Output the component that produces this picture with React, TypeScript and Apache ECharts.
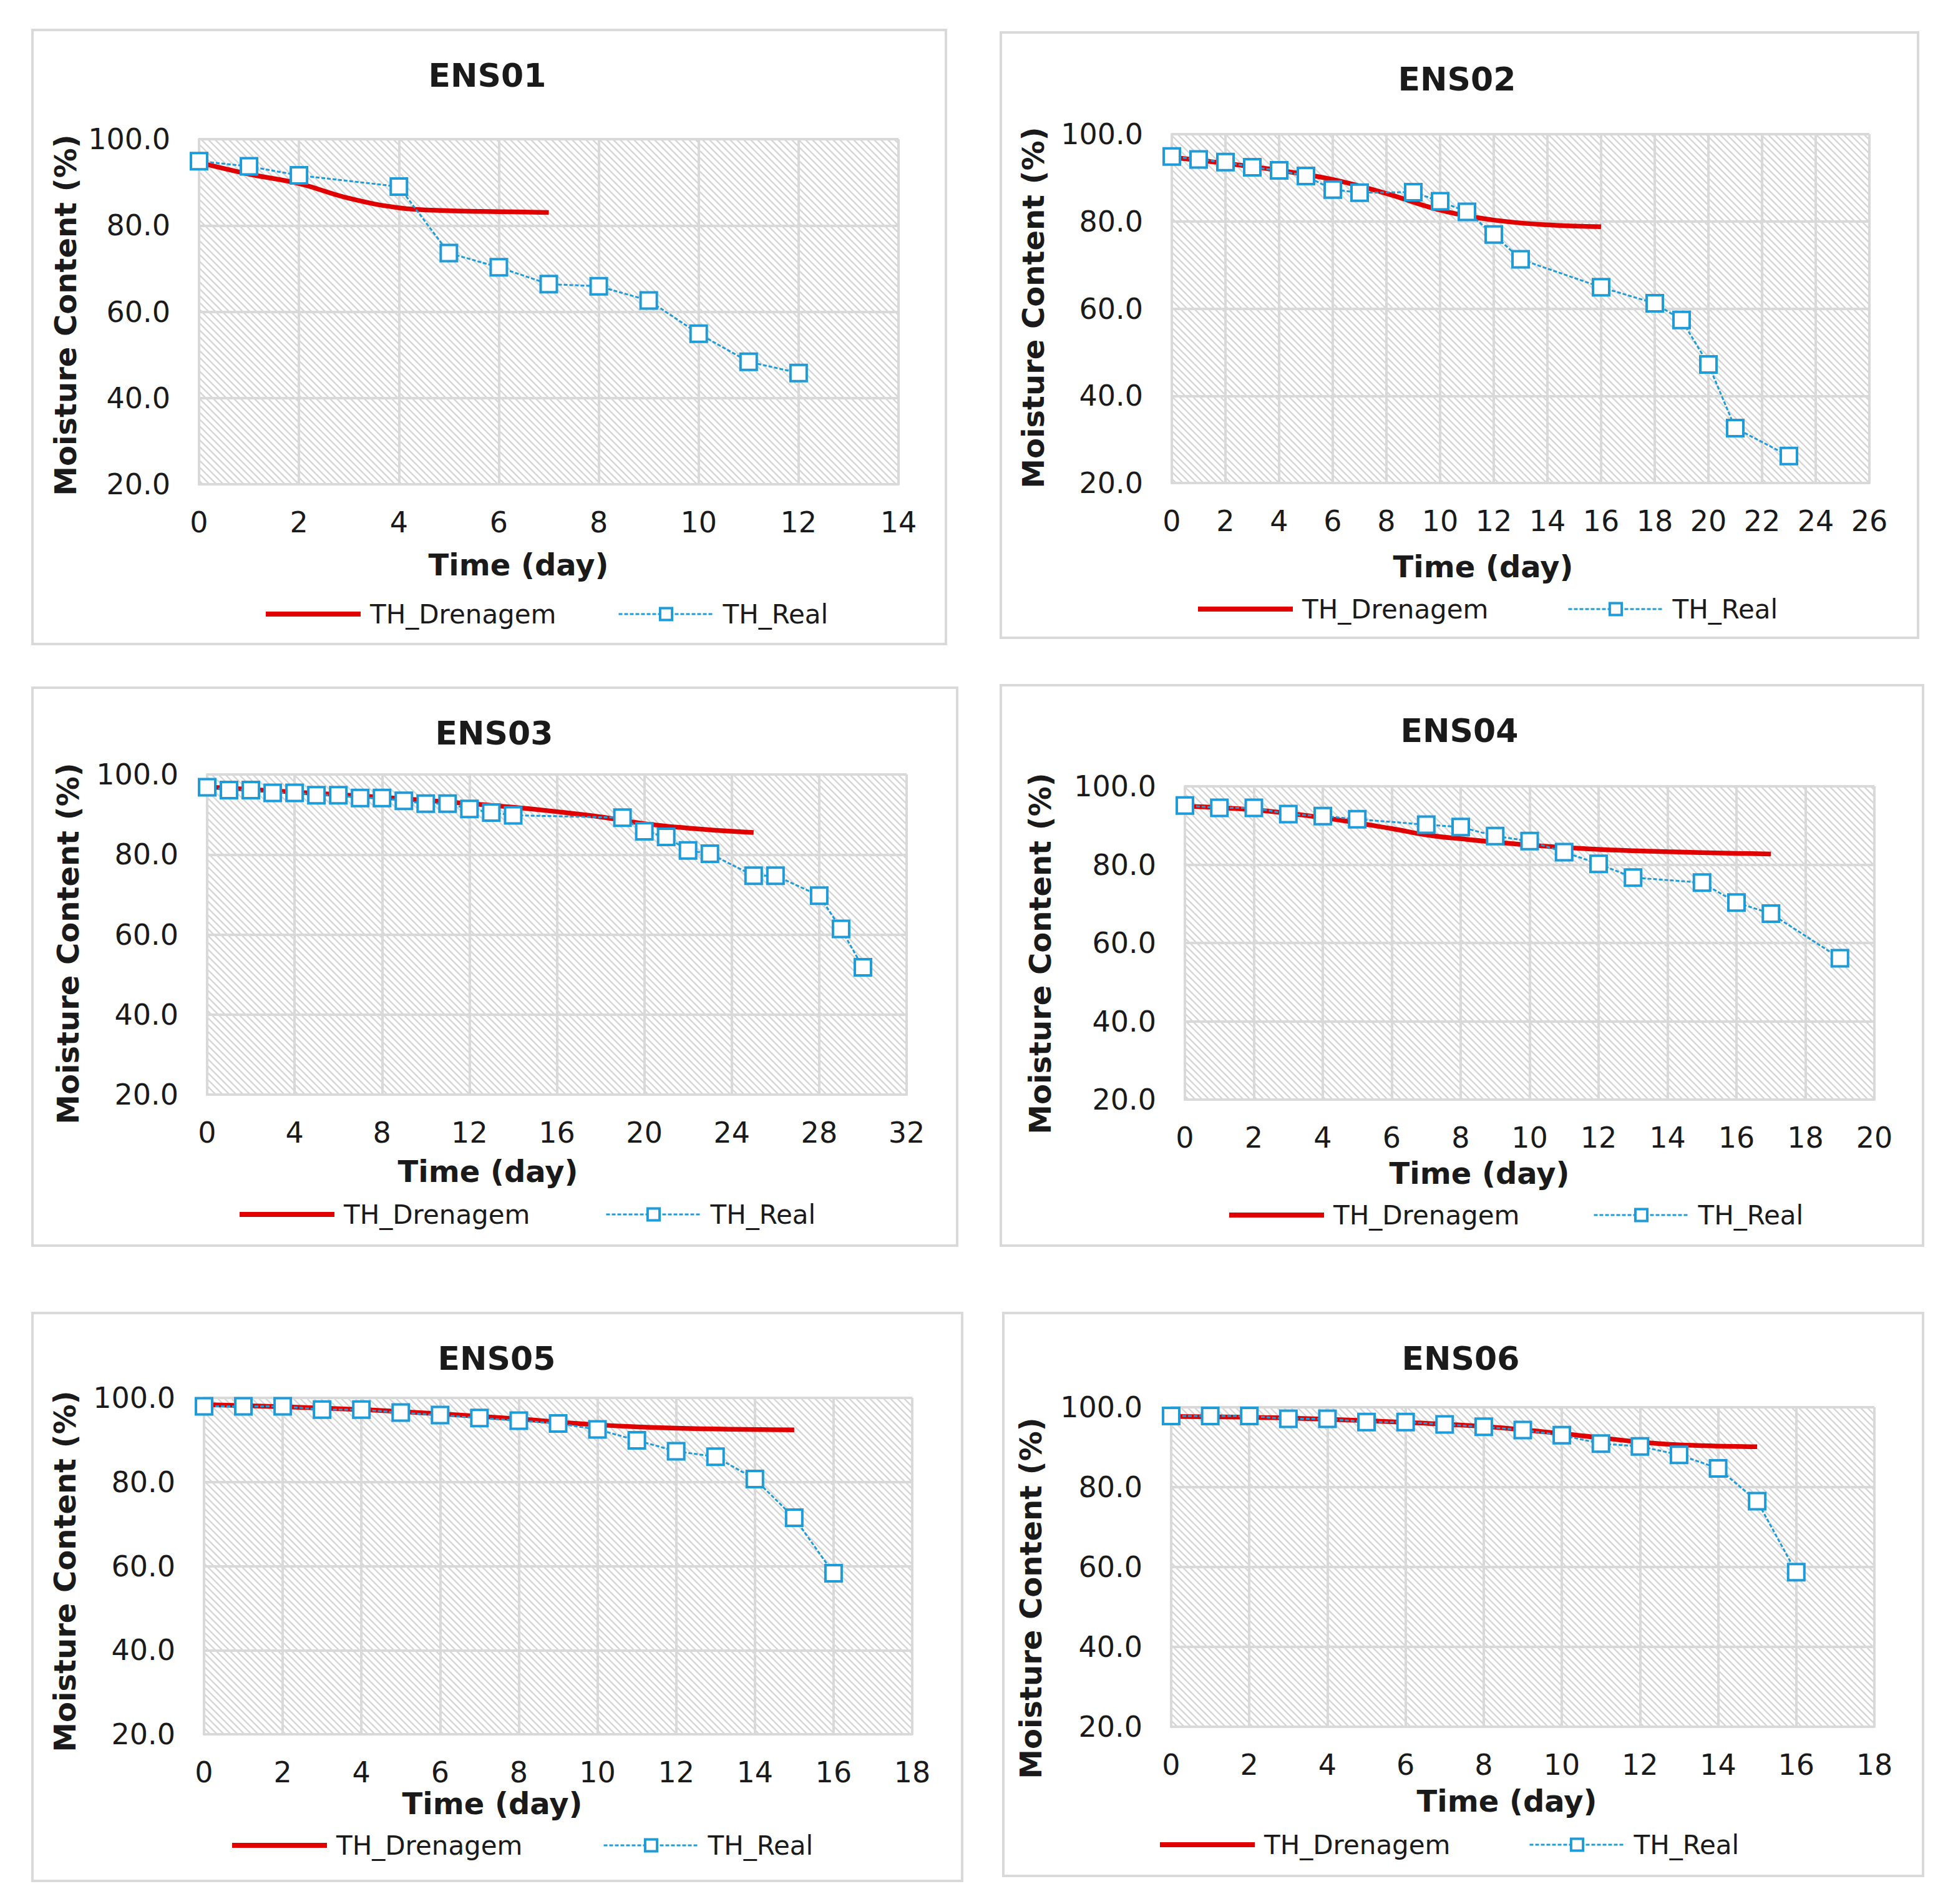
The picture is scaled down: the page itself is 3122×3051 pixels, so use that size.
import React, { useEffect, useRef } from "react";
import * as echarts from "echarts";

// ---------------- data ----------------
const seriesNames = ["TH_Drenagem", "TH_Real"];
const panelTitles = ["ENS01", "ENS02", "ENS03", "ENS04", "ENS05", "ENS06"];
const xAxisTitle = "Time (day)";
const yAxisTitle = "Moisture Content (%)";
const yMin = 20;
const yMax = 100;
const yStep = 20;
const xMaxes = [14, 26, 32, 20, 18, 18];
const xSteps = [2, 2, 4, 2, 2, 2];

const ens01RealDays = [0, 1, 2, 4, 5, 6, 7, 8, 9, 10, 11, 12];
const ens01Real = [94.9, 93.7, 91.6, 89.0, 73.6, 70.3, 66.4, 65.9, 62.6, 54.9, 48.4, 45.8];
const ens01DrenDays = [0, 1, 2, 3, 4, 5, 6, 7];
const ens01Dren = [94.6, 91.9, 89.7, 86.3, 84.1, 83.4, 83.2, 83.0];

const ens02RealDays = [0, 1, 2, 3, 4, 5, 6, 7, 9, 10, 11, 12, 13, 16, 18, 19, 20, 21, 23];
const ens02Real = [94.9, 94.2, 93.6, 92.4, 91.7, 90.4, 87.3, 86.6, 86.7, 84.6, 82.2, 77.0, 71.3, 64.9, 61.2, 57.4, 47.2, 32.6, 26.2];
const ens02DrenDays = [0, 2, 4, 6, 8, 10, 12, 14, 16];
const ens02Dren = [94.7, 93.3, 91.7, 89.6, 86.4, 82.6, 80.3, 79.2, 78.8];

const ens03RealDays = [0, 1, 2, 3, 4, 5, 6, 7, 8, 9, 10, 11, 12, 13, 14, 19, 20, 21, 22, 23, 25, 26, 28, 29, 30];
const ens03Real = [96.8, 96.1, 96.1, 95.4, 95.4, 94.8, 94.8, 94.1, 94.1, 93.4, 92.7, 92.7, 91.4, 90.5, 89.8, 89.2, 85.8, 84.4, 81.0, 80.2, 74.7, 74.7, 69.7, 61.4, 51.8];
const ens03DrenDays = [0, 4, 8, 12, 14, 16, 18, 20, 22, 24, 25];
const ens03Dren = [96.9, 95.6, 94.3, 92.7, 91.8, 90.7, 89.4, 87.7, 86.6, 85.8, 85.5];

const ens04RealDays = [0, 1, 2, 3, 4, 5, 7, 8, 9, 10, 11, 12, 13, 15, 16, 17, 19];
const ens04Real = [95.1, 94.5, 94.5, 92.9, 92.4, 91.6, 90.2, 89.6, 87.3, 86.0, 83.2, 80.2, 76.7, 75.4, 70.3, 67.5, 56.1];
const ens04DrenDays = [0, 2, 4, 6, 7, 8, 10, 12, 14, 17];
const ens04Dren = [94.9, 94.0, 92.0, 89.2, 87.6, 86.6, 85.0, 83.9, 83.3, 82.7];

const ens05RealDays = [0, 1, 2, 3, 4, 5, 6, 7, 8, 9, 10, 11, 12, 13, 14, 15, 16];
const ens05Real = [98.0, 98.0, 98.0, 97.2, 97.2, 96.5, 95.9, 95.2, 94.6, 93.9, 92.5, 89.9, 87.3, 86.0, 80.7, 71.5, 58.3];
const ens05DrenDays = [0, 2, 4, 6, 8, 10, 12, 15];
const ens05Dren = [98.4, 97.9, 97.2, 96.2, 95.0, 93.6, 92.8, 92.4];

const ens06RealDays = [0, 1, 2, 3, 4, 5, 6, 7, 8, 9, 10, 11, 12, 13, 14, 15, 16];
const ens06Real = [97.8, 97.8, 97.8, 97.1, 97.1, 96.3, 96.3, 95.7, 95.1, 94.3, 93.0, 90.9, 90.2, 88.1, 84.7, 76.5, 58.7];
const ens06DrenDays = [0, 2, 4, 6, 8, 10, 12, 13, 15];
const ens06Dren = [97.7, 97.5, 97.0, 96.2, 95.2, 93.4, 91.3, 90.6, 90.1];

const realDays = [ens01RealDays, ens02RealDays, ens03RealDays, ens04RealDays, ens05RealDays, ens06RealDays];
const realValues = [ens01Real, ens02Real, ens03Real, ens04Real, ens05Real, ens06Real];
const drenDays = [ens01DrenDays, ens02DrenDays, ens03DrenDays, ens04DrenDays, ens05DrenDays, ens06DrenDays];
const drenValues = [ens01Dren, ens02Dren, ens03Dren, ens04Dren, ens05Dren, ens06Dren];

// ---------------- layout (pixels) ----------------
const PAGE_W = 3122;
const PAGE_H = 3051;
const layout = [
  { box: [52, 48, 1516, 1032], grid: [319, 223, 1440, 776], title: [781, 121], xTitle: [831, 905], yTitle: [105, 505], legendRed: 422, legendBlue: 990, legendY: 984 },
  { box: [1604, 52, 3074, 1022], grid: [1878, 215, 2996, 774], title: [2335, 127], xTitle: [2377, 908], yTitle: [1656, 493], legendRed: 1916, legendBlue: 2512, legendY: 976 },
  { box: [52, 1102, 1534, 1996], grid: [332, 1241, 1453, 1754], title: [792, 1175], xTitle: [782, 1877], yTitle: [109, 1512], legendRed: 380, legendBlue: 970, legendY: 1946 },
  { box: [1604, 1098, 3082, 1996], grid: [1899, 1260, 3004, 1762], title: [2339, 1171], xTitle: [2371, 1880], yTitle: [1667, 1528], legendRed: 1966, legendBlue: 2553, legendY: 1947 },
  { box: [52, 2104, 1542, 3014], grid: [327, 2240, 1462, 2779], title: [796, 2177], xTitle: [789, 2890], yTitle: [104, 2518], legendRed: 368, legendBlue: 966, legendY: 2957 },
  { box: [1608, 2104, 3082, 3006], grid: [1877, 2255, 3004, 2767], title: [2341, 2177], xTitle: [2415, 2886], yTitle: [1652, 2561], legendRed: 1855, legendBlue: 2450, legendY: 2956 },
];

const RED = "#e00000";
const BLUE = "#1f9bd8";
const GRID_GRAY = "#d9d9d9";
const TEXT = "#1a1a1a";
const FONT = "DejaVu Sans";

function makeHatch() {
  const s = 11;
  const c = document.createElement("canvas");
  c.width = s;
  c.height = s;
  const ctx = c.getContext("2d")!;
  ctx.fillStyle = "#ffffff";
  ctx.fillRect(0, 0, s, s);
  ctx.strokeStyle = "#d6d6d6";
  ctx.lineWidth = 2.4;
  for (const off of [-s, 0, s]) {
    ctx.beginPath();
    ctx.moveTo(off - 2, -2);
    ctx.lineTo(off + s + 2, s + 2);
    ctx.stroke();
  }
  return c;
}

export default function App() {
  const ref = useRef<HTMLDivElement>(null);

  useEffect(() => {
    if (!ref.current) return;
    const chart = echarts.init(ref.current, undefined, { renderer: "svg" });
    const hatch = makeHatch();

    const grids: any[] = [];
    const xAxes: any[] = [];
    const yAxes: any[] = [];
    const series: any[] = [];
    const legends: any[] = [];
    const graphics: any[] = [];

    const legendBase = {
      orient: "horizontal",
      padding: 0,
      itemWidth: 152,
      itemHeight: 24,
      selectedMode: false,
      textStyle: { fontSize: 42, color: TEXT, fontFamily: FONT, padding: [0, 0, 0, 10], lineHeight: 42 },
    };

    layout.forEach((L, i) => {
      const [gx0, gy0, gx1, gy1] = L.grid;
      grids.push({
        left: gx0,
        top: gy0,
        width: gx1 - gx0,
        height: gy1 - gy0,
        show: true,
        backgroundColor: { image: hatch, repeat: "repeat" },
        borderWidth: 0,
        containLabel: false,
      });
      xAxes.push({
        type: "value",
        gridIndex: i,
        min: 0,
        max: xMaxes[i],
        interval: xSteps[i],
        axisLine: { show: true, lineStyle: { color: GRID_GRAY, width: 4 } },
        axisTick: { show: false },
        splitLine: { show: true, lineStyle: { color: GRID_GRAY, width: 4 } },
        axisLabel: { fontSize: 46, color: TEXT, fontFamily: FONT, margin: 38 },
      });
      yAxes.push({
        type: "value",
        gridIndex: i,
        min: yMin,
        max: yMax,
        interval: yStep,
        axisLine: { show: true, lineStyle: { color: GRID_GRAY, width: 4 } },
        axisTick: { show: false },
        splitLine: { show: true, lineStyle: { color: GRID_GRAY, width: 4 } },
        axisLabel: {
          fontSize: 46,
          color: TEXT,
          fontFamily: FONT,
          margin: 46,
          formatter: (v: number) => v.toFixed(1),
        },
      });
      series.push({
        type: "line",
        name: seriesNames[0],
        xAxisIndex: i,
        yAxisIndex: i,
        data: drenDays[i].map((d, k) => [d, drenValues[i][k]]),
        smooth: 0.4,
        symbol: "none",
        lineStyle: { color: RED, width: 7.5 },
        itemStyle: { color: RED },
        z: 2,
      });
      series.push({
        type: "line",
        name: seriesNames[1],
        xAxisIndex: i,
        yAxisIndex: i,
        data: realDays[i].map((d, k) => [d, realValues[i][k]]),
        symbol: "rect",
        symbolSize: 26,
        showSymbol: true,
        lineStyle: { color: BLUE, width: 3, type: [6, 3] },
        itemStyle: { color: "#ffffff", borderColor: BLUE, borderWidth: 4 },
        z: 3,
      });
      legends.push({
        ...legendBase,
        left: L.legendRed,
        top: L.legendY - 21,
        data: [
          {
            name: seriesNames[0],
            lineStyle: { color: RED, width: 8, type: "solid" },
            itemStyle: { color: "rgba(0,0,0,0)", borderWidth: 0, opacity: 0 },
          },
        ],
      });
      legends.push({
        ...legendBase,
        left: L.legendBlue,
        top: L.legendY - 21,
        data: [
          {
            name: seriesNames[1],
            lineStyle: { color: BLUE, width: 3, type: [6, 3] },
            itemStyle: { color: "#ffffff", borderColor: BLUE, borderWidth: 4 },
          },
        ],
      });
      const [bx0, by0, bx1, by1] = L.box;
      graphics.push({
        type: "rect",
        shape: { x: bx0, y: by0, width: bx1 - bx0, height: by1 - by0 },
        style: { fill: "none", stroke: GRID_GRAY, lineWidth: 4 },
        silent: true,
        z: -10,
      });
      graphics.push({
        type: "text",
        x: L.title[0],
        y: L.title[1],
        style: {
          text: panelTitles[i],
          fontSize: 52,
          fontWeight: "bold",
          fontFamily: FONT,
          fill: TEXT,
          align: "center",
          verticalAlign: "middle",
        },
      });
      graphics.push({
        type: "text",
        x: L.xTitle[0],
        y: L.xTitle[1],
        style: {
          text: xAxisTitle,
          fontSize: 48,
          fontWeight: "bold",
          fontFamily: FONT,
          fill: TEXT,
          align: "center",
          verticalAlign: "middle",
        },
      });
      graphics.push({
        type: "text",
        x: L.yTitle[0],
        y: L.yTitle[1],
        rotation: Math.PI / 2,
        style: {
          text: yAxisTitle,
          fontSize: 48,
          fontWeight: "bold",
          fontFamily: FONT,
          fill: TEXT,
          align: "center",
          verticalAlign: "middle",
        },
      });
    });

    chart.setOption({
      animation: false,
      backgroundColor: "#ffffff",
      grid: grids,
      xAxis: xAxes,
      yAxis: yAxes,
      series,
      legend: legends,
      graphic: graphics,
    });

    return () => chart.dispose();
  }, []);

  return (
    <div
      ref={ref}
      style={{ position: "absolute", left: 0, top: 0, width: PAGE_W, height: PAGE_H, background: "#fff" }}
    />
  );
}
